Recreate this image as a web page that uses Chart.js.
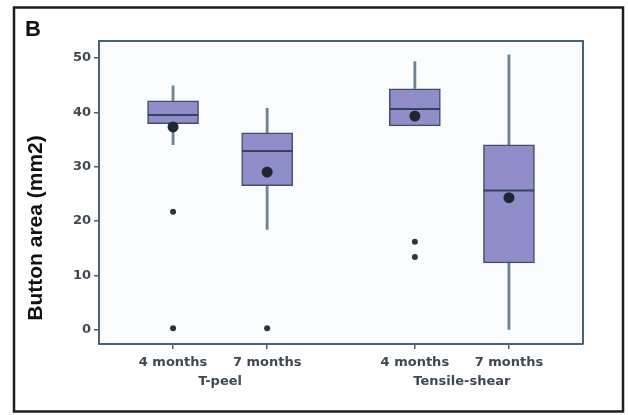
<!DOCTYPE html>
<html>
<head>
<meta charset="utf-8">
<script src="https://cdn.jsdelivr.net/npm/chart.js@4/dist/chart.umd.min.js"></script>
<style>
  html, body { margin: 0; padding: 0; background: #fff; }
  #wrap { width: 628px; height: 415px; position: relative; }
</style>
</head>
<body>
<div id="wrap"><canvas id="c" width="628" height="415"></canvas></div>
<script>
// Button area (mm2) by test type and ageing period
const panelLabel = 'B';
const yTitle = 'Button area (mm2)';
const groups = ['T-peel', 'Tensile-shear'];
const periods = ['4 months', '7 months', '4 months', '7 months'];
const slots = [1, 2, 3.57, 4.57];          // x slot of each box
const groupOf = [0, 0, 1, 1];
const whiskerLow = [34.0, 18.4, 37.5, 0.0];
const q1 = [37.9, 26.5, 37.5, 12.3];
const median = [39.5, 32.9, 40.6, 25.6];
const q3 = [42.1, 36.2, 44.3, 34.0];
const whiskerHigh = [44.9, 40.8, 49.4, 50.6];
const means = [37.3, 29.0, 39.3, 24.3];
const outliers = [[21.7, 0.3], [0.3], [16.2, 13.4], []];
const yTicks = [0, 10, 20, 30, 40, 50];

const axisColor = '#4b6274';
const tickFont = { family: 'DejaVu Sans', weight: 'bold', size: 13 };
const tickColor = '#3f4852';

const boxData = slots.map((s, i) => ({ x: s, y: [q1[i], q3[i]] }));
const whiskerData = [];
slots.forEach((s, i) => {
  whiskerData.push({ x: s, y: whiskerLow[i] }, { x: s, y: q1[i] }, { x: s, y: null });
  whiskerData.push({ x: s, y: q3[i] }, { x: s, y: whiskerHigh[i] }, { x: s, y: null });
});
const halfBox = 0.268;
const medianData = [];
slots.forEach((s, i) => {
  medianData.push({ x: s - halfBox, y: median[i] }, { x: s + halfBox, y: median[i] }, { x: s, y: null });
});
const meanData = slots.map((s, i) => ({ x: s, y: means[i] }));
const outlierData = [];
slots.forEach((s, i) => outliers[i].forEach(v => outlierData.push({ x: s, y: v })));

const frame = {
  id: 'frame',
  beforeDraw(chart) {
    const { ctx, chartArea: a } = chart;
    ctx.save();
    ctx.fillStyle = '#ffffff';
    ctx.fillRect(0, 0, chart.width, chart.height);
    ctx.fillStyle = '#fbfcfe';
    ctx.fillRect(a.left, a.top, a.right - a.left, a.bottom - a.top);
    ctx.restore();
  },
  afterDraw(chart) {
    const { ctx, chartArea: a, scales } = chart;
    ctx.save();
    // plot frame (top and right edges)
    ctx.strokeStyle = axisColor;
    ctx.lineWidth = 2;
    ctx.beginPath();
    ctx.moveTo(a.left, a.top); ctx.lineTo(a.right, a.top); ctx.lineTo(a.right, a.bottom);
    ctx.stroke();
    // outer panel border
    ctx.strokeStyle = '#1e1e1e';
    ctx.lineWidth = 2.5;
    ctx.strokeRect(14, 7.5, 609, 404);
    // panel letter
    ctx.fillStyle = '#111';
    ctx.font = 'bold 22px "Liberation Sans", Arial, sans-serif';
    ctx.textBaseline = 'alphabetic';
    ctx.textAlign = 'left';
    ctx.fillText(panelLabel, 25, 36);
    // y axis title
    ctx.save();
    ctx.translate(42, 228);
    ctx.rotate(-Math.PI / 2);
    ctx.textAlign = 'center';
    ctx.font = 'bold 21px "Liberation Sans", Arial, sans-serif';
    ctx.fillText(yTitle, 0, 0);
    ctx.restore();
    // group labels under the period labels
    ctx.fillStyle = tickColor;
    ctx.font = 'bold 13px "DejaVu Sans"';
    ctx.textAlign = 'center';
    ctx.textBaseline = 'middle';
    groups.forEach((g, gi) => {
      const xs = slots.filter((s, i) => groupOf[i] === gi).map(s => scales.x.getPixelForValue(s));
      const cx = xs.reduce((p, v) => p + v, 0) / xs.length;
      ctx.fillText(g, cx, a.bottom + 38);
    });
    ctx.restore();
  }
};

new Chart(document.getElementById('c'), {
  type: 'bar',
  data: {
    datasets: [
      {
        type: 'bar', data: boxData, order: 2,
        backgroundColor: '#8f8dca', borderColor: '#3e5064', borderWidth: 1.5,
        borderSkipped: false, barThickness: 51, grouped: false
      },
      {
        type: 'line', data: whiskerData, order: 3, spanGaps: false,
        borderColor: '#6d8292', borderWidth: 2.8, pointRadius: 0, fill: false
      },
      {
        type: 'line', data: medianData, order: 1, spanGaps: false,
        borderColor: '#33455a', borderWidth: 2, pointRadius: 0, fill: false
      },
      {
        type: 'scatter', data: meanData, order: 0,
        pointRadius: 5.5, pointBackgroundColor: '#1d2834', pointBorderWidth: 0
      },
      {
        type: 'scatter', data: outlierData, order: 0,
        pointRadius: 3, pointBackgroundColor: '#2b3642', pointBorderWidth: 0
      }
    ]
  },
  options: {
    responsive: false,
    animation: false,
    devicePixelRatio: 1,
    layout: { padding: { left: 0, top: 41, right: 45, bottom: 0 } },
    plugins: { legend: { display: false }, tooltip: { enabled: false } },
    scales: {
      x: {
        type: 'linear', min: 0.213, max: 5.357, offset: false,
        afterBuildTicks: s => { s.ticks = slots.map(v => ({ value: v })); },
        afterFit: s => { s.height = 71; },
        ticks: {
          autoSkip: false, maxRotation: 0, padding: 6, color: tickColor, font: tickFont,
          callback: (v) => { const i = slots.indexOf(v); return i >= 0 ? periods[i] : ''; }
        },
        grid: { display: true, offset: false, drawOnChartArea: false, drawTicks: true, tickLength: 5, color: axisColor, lineWidth: 1.5 },
        border: { display: true, color: axisColor, width: 2 }
      },
      y: {
        type: 'linear', min: -2.6, max: 53.1,
        afterBuildTicks: s => { s.ticks = yTicks.map(v => ({ value: v })); },
        afterFit: s => { s.width = 99; },
        ticks: { padding: 3, color: tickColor, font: tickFont },
        grid: { display: true, offset: false, drawOnChartArea: false, drawTicks: true, tickLength: 5, color: axisColor, lineWidth: 1.5 },
        border: { display: true, color: axisColor, width: 2 }
      }
    }
  },
  plugins: [frame]
});
</script>
</body>
</html>
